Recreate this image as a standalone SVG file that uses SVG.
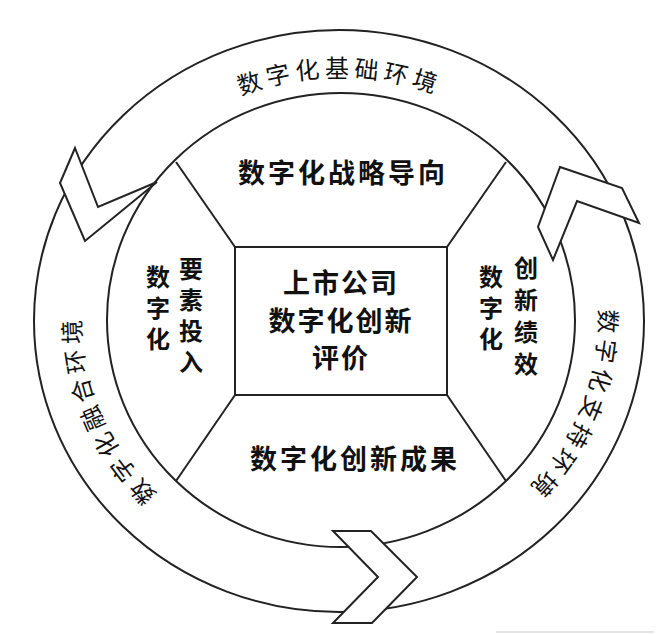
<svg xmlns="http://www.w3.org/2000/svg" xmlns:xlink="http://www.w3.org/1999/xlink" width="668" height="634" viewBox="0 0 668 634">
<style>
.ln{fill:none;stroke:#222;stroke-width:2}
.chev{fill:#fff;stroke:#222;stroke-width:2;stroke-linejoin:miter}
.ring{font-family:"Noto Sans CJK SC","Noto Sans",sans-serif;font-size:24px;font-weight:400;fill:#111;letter-spacing:6px}
.in{font-family:"Noto Sans CJK SC","Noto Sans",sans-serif;font-size:27px;font-weight:700;fill:#111;text-anchor:middle}
.col{font-size:24px}
</style>
<defs>
<path id="pTop" d="M70,321 A270,255 0 0 1 610,321"/>
<path id="pLeft" d="M344.7,576 A270,255 0 0 1 162.9,128.5"/>
<path id="pRight" d="M513.6,125.7 A270,255 0 0 1 340,576"/>
</defs>
<rect width="668" height="634" fill="#fff"/>
<g id="rings">
<ellipse class="ln" cx="339" cy="321" rx="305" ry="291"/>
<ellipse class="ln" cx="341" cy="320" rx="234" ry="227"/>
</g>
<g id="connectors">
<polygon class="chev" points="75,148 98,207 157,182 85,241 60,183"/>
<polygon class="chev" points="560,167 622,188 639,223 577,201 553,260 538,227"/>
<polygon class="chev" points="333,531 371,531 417,577 372,623 333,623 378,577"/>
<line class="ln" x1="235" y1="247" x2="176" y2="162"/>
<line class="ln" x1="447" y1="247" x2="506" y2="162"/>
<line class="ln" x1="235" y1="395" x2="176" y2="481"/>
<line class="ln" x1="447" y1="395" x2="506" y2="481"/>
</g>
<g id="ring-top"><text class="ring" dominant-baseline="central" text-anchor="middle"><textPath xlink:href="#pTop" startOffset="50%">数字化基础环境</textPath></text></g>
<g id="ring-left"><text class="ring" dominant-baseline="central" text-anchor="middle"><textPath xlink:href="#pLeft" startOffset="50%">数字化融合环境</textPath></text></g>
<g id="ring-right"><text class="ring" dominant-baseline="central" text-anchor="middle"><textPath xlink:href="#pRight" startOffset="50%">数字化支持环境</textPath></text></g>
<g id="center">
<rect class="ln" x="235" y="247" width="212" height="148"/>
<text class="in" x="341" y="293" font-size="28" letter-spacing="2">上市公司</text>
<text class="in" x="341" y="331" font-size="28" letter-spacing="2">数字化创新</text>
<text class="in" x="341" y="368" font-size="28" letter-spacing="2">评价</text>
</g>
<g id="top"><text class="in" x="343" y="183" letter-spacing="3">数字化战略导向</text></g>
<g id="bottom"><text class="in" x="355" y="469" letter-spacing="3">数字化创新成果</text></g>
<g id="left">
<text class="in col" x="158" y="286">数</text><text class="in col" x="158" y="317">字</text><text class="in col" x="158" y="348">化</text>
<text class="in col" x="191" y="278">要</text><text class="in col" x="191" y="309">素</text><text class="in col" x="191" y="340">投</text><text class="in col" x="191" y="371">入</text>
</g>
<g id="right">
<text class="in col" x="491" y="286">数</text><text class="in col" x="491" y="317">字</text><text class="in col" x="491" y="348">化</text>
<text class="in col" x="526" y="277">创</text><text class="in col" x="526" y="309">新</text><text class="in col" x="526" y="341">绩</text><text class="in col" x="526" y="373">效</text>
</g>
<line x1="496" y1="632" x2="654" y2="632" stroke="#ddd" stroke-width="1.5"/>
</svg>
